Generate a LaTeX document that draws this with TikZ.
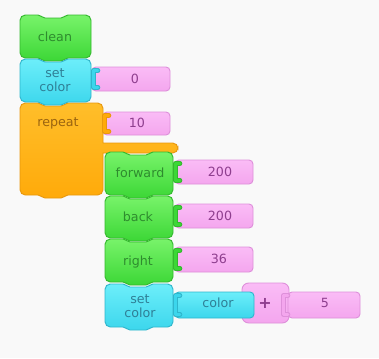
\documentclass[tikz,border=0pt]{standalone}
\usepackage{fontspec}
\setmainfont{DejaVu Sans}
\definecolor{bg}{HTML}{F9F9F9}
% block palettes: top / bottom / outline / label
\definecolor{grntop}{HTML}{78F36A}\definecolor{grnbot}{HTML}{3CD736}\definecolor{grnline}{HTML}{34B82E}\definecolor{grntxt}{HTML}{2E8C2E}
\definecolor{cyntop}{HTML}{6CEEFA}\definecolor{cynbot}{HTML}{3CD6EC}\definecolor{cynline}{HTML}{2FB6CC}\definecolor{cyntxt}{HTML}{2F7F96}
\definecolor{orgtop}{HTML}{FFBE2A}\definecolor{orgbot}{HTML}{FFAA0A}\definecolor{orgline}{HTML}{E8980E}\definecolor{orgtxt}{HTML}{9A6410}
\definecolor{pnktop}{HTML}{FABCF6}\definecolor{pnkbot}{HTML}{F4A6EE}\definecolor{pnkline}{HTML}{DE90DA}\definecolor{pnktxt}{HTML}{8E3E8E}
\tikzset{
  lbl/.style={font=\fontsize{9.5}{10}\selectfont, align=center, inner sep=0pt},
  blockshape/.style={draw=#1line, line width=0.7pt, top color=#1top, bottom color=#1bot},
}
% stacking block with a top notch and a bottom bump: x1,y1,x2,y2,palette
\newcommand\stackblock[5]{%
  \path[blockshape=#5]
    (#1,#4) [rounded corners=4pt] -- (#1,#2) [rounded corners=1.5pt] -- ({#1+20},#2) -- ({#1+23},{#2+3}) -- ({#1+43},{#2+3}) -- ({#1+46},#2)
    [rounded corners=4pt] -- (#3,#2) -- (#3,#4) [rounded corners=1.5pt] -- ({#1+46},#4) -- ({#1+43},{#4+3}) -- ({#1+23},{#4+3}) -- ({#1+20},#4)
    [rounded corners=4pt] -- cycle;}
% argument slot: x1,y1,x2,y2,palette
\newcommand\argslot[5]{%
  \path[blockshape=#5, rounded corners=3pt] (#1,#2) rectangle (#3,#4);}
% C-shaped socket on a block's right edge: x,y1,y2,palette
\newcommand\socket[4]{%
  \draw[#4line, line width=3.4pt, line cap=round, line join=round]
    ({#1+8},{#2+3.5}) -- ({#1+3.5},{#2+3.5}) -- ({#1+3.5},{#3-3.5}) -- ({#1+8},{#3-3.5});
  \draw[#4bot, line width=2pt, line cap=round, line join=round]
    ({#1+8},{#2+3.5}) -- ({#1+3.5},{#2+3.5}) -- ({#1+3.5},{#3-3.5}) -- ({#1+8},{#3-3.5});}
\begin{document}
\begin{tikzpicture}[x=0.75pt,y=-0.75pt]
  \fill[bg] (0,0) rectangle (379,358);
  \useasboundingbox (0,0) rectangle (379,358);

  % repeat: C-shaped frame
  \path[blockshape=org]
    (20,195) [rounded corners=4pt] -- (20,103) [rounded corners=1.5pt] -- (40,103) -- (43,106) -- (63,106) -- (66,103)
    [rounded corners=4pt] -- (103,103) [sharp corners] -- (103,143) [rounded corners=4pt] -- (178,143) -- (178,153)
    [sharp corners] -- (103,153) [rounded corners=4pt] -- (103,195) [rounded corners=1.5pt] -- (66,195) -- (63,198) -- (43,198) -- (40,195)
    [rounded corners=4pt] -- cycle;
  \node[lbl, text=orgtxt] (repeat) at (58,123) {repeat};
  \argslot{103}{112}{170}{135}{pnk}
  \socket{101}{112}{135}{org}
  \node[lbl, text=pnktxt] (ten) at (137,123) {10};

  % clean
  \stackblock{20}{15}{91}{58}{grn}
  \node[lbl, text=grntxt] (clean) at (55,37) {clean};

  % set color 0
  \stackblock{20}{59}{91}{102}{cyn}
  \node[lbl, text=cyntxt] (setcolA) at (55,80) {set\\color};
  \argslot{92}{67}{170}{91}{pnk}
  \socket{90}{67}{91}{cyn}
  \node[lbl, text=pnktxt] (zero) at (135,79) {0};

  % forward 200
  \stackblock{105}{152}{173}{195}{grn}
  \node[lbl, text=grntxt] (forward) at (140,173) {forward};
  \argslot{175}{160}{253}{184}{pnk}
  \socket{172}{160}{184}{grn}
  \node[lbl, text=pnktxt] (fwdval) at (220,172) {200};

  % back 200
  \stackblock{105}{196}{173}{238}{grn}
  \node[lbl, text=grntxt] (back) at (138,217) {back};
  \argslot{175}{204}{253}{228}{pnk}
  \socket{172}{204}{228}{grn}
  \node[lbl, text=pnktxt] (backval) at (220,216) {200};

  % right 36
  \stackblock{105}{239}{173}{282}{grn}
  \node[lbl, text=grntxt] (right) at (138,262) {right};
  \argslot{175}{247}{253}{272}{pnk}
  \socket{172}{247}{272}{grn}
  \node[lbl, text=pnktxt] (rightval) at (219,259) {36};

  % set color (color + 5)
  \stackblock{105}{284}{173}{327}{cyn}
  \node[lbl, text=cyntxt] (setcolB) at (140,306) {set\\color};
  \path[blockshape=pnk, rounded corners=5pt] (242,283) rectangle (289,323);
  \node[lbl, text=pnktxt, font=\fontsize{12}{12}\selectfont\bfseries] (plus) at (265,303) {+};
  \argslot{175}{292}{254}{318}{cyn}
  \socket{172}{292}{318}{cyn}
  \node[lbl, text=cyntxt] (colorarg) at (218,303) {color};
  \argslot{288}{292}{360}{318}{pnk}
  \socket{280}{292}{318}{pnk}
  \node[lbl, text=pnktxt] (five) at (325,303) {5};
\end{tikzpicture}
\end{document}
